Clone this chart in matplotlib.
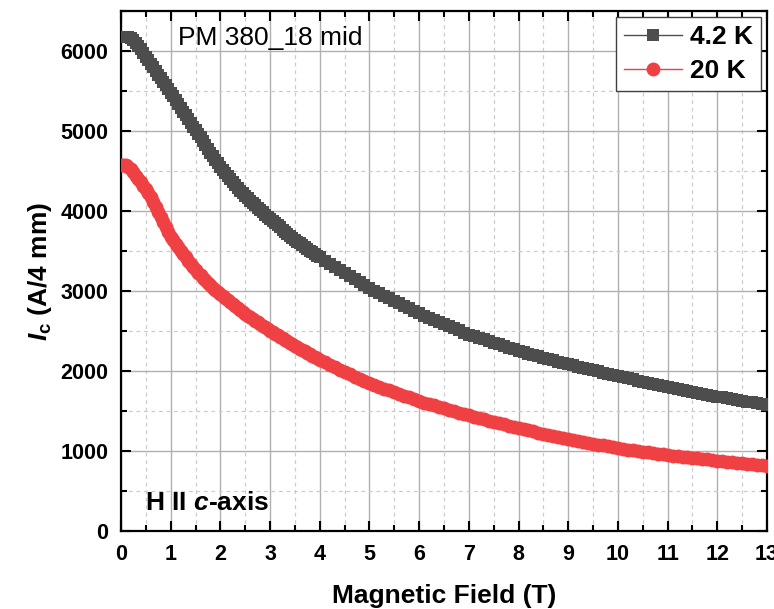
import matplotlib
matplotlib.use("Agg")
import matplotlib.pyplot as plt
from matplotlib.ticker import MultipleLocator

plt.rcParams['font.family'] = ['Liberation Sans', 'DejaVu Sans']
plt.rcParams['mathtext.fontset'] = 'custom'
plt.rcParams['mathtext.it'] = 'Liberation Sans:bold:italic'
plt.rcParams['mathtext.rm'] = 'Liberation Sans:bold'
plt.rcParams['mathtext.bf'] = 'Liberation Sans:bold'

# Magnetic field (T): 0.05 T steps up to 4 T, then 0.1 T steps to 13 T
field = [round(0.05 * i, 2) for i in range(81)] + [round(4.0 + 0.1 * i, 1) for i in range(1, 91)]

ic_42K = [
    # 0.00 - 4.00 T (0.05 T)
    6180, 6180, 6180, 6175, 6160, 6135, 6100, 6062, 6020, 5975,
    5930, 5885, 5840, 5795, 5750, 5705, 5660, 5615, 5570, 5525,
    5480, 5432, 5385, 5337, 5290, 5242, 5195, 5147, 5100, 5055,
    5010, 4965, 4920, 4875, 4830, 4780, 4730, 4685, 4640, 4597,
    4555, 4515, 4475, 4437, 4400, 4362, 4325, 4290, 4255, 4222,
    4190, 4160, 4130, 4100, 4070, 4040, 4010, 3982, 3955, 3927,
    3900, 3872, 3845, 3820, 3795, 3767, 3740, 3715, 3690, 3665,
    3640, 3617, 3595, 3572, 3550, 3527, 3505, 3482, 3460, 3440,
    3420,
    # 4.1 - 13.0 T (0.1 T)
    3380, 3340, 3300, 3261, 3223, 3185, 3147, 3109, 3072, 3035,
    3003, 2971, 2939, 2907, 2876, 2845, 2814, 2783, 2751, 2720,
    2693, 2666, 2639, 2612, 2586, 2560, 2534, 2508, 2481, 2455,
    2435, 2414, 2394, 2373, 2353, 2332, 2312, 2291, 2271, 2250,
    2233, 2216, 2199, 2182, 2166, 2150, 2134, 2118, 2101, 2085,
    2070, 2055, 2040, 2025, 2010, 1995, 1980, 1965, 1950, 1935,
    1921, 1908, 1894, 1881, 1867, 1854, 1840, 1827, 1813, 1800,
    1788, 1776, 1764, 1752, 1740, 1728, 1716, 1704, 1692, 1680,
    1670, 1659, 1649, 1638, 1628, 1617, 1607, 1596, 1586, 1575,
]

ic_20K = [
    # 0.00 - 4.00 T (0.05 T)
    4575, 4578, 4570, 4550, 4520, 4482, 4440, 4400, 4360, 4318,
    4275, 4225, 4170, 4112, 4052, 3990, 3928, 3865, 3802, 3740,
    3680, 3635, 3590, 3545, 3500, 3460, 3420, 3380, 3340, 3302,
    3265, 3230, 3195, 3163, 3132, 3102, 3072, 3043, 3015, 2987,
    2960, 2934, 2908, 2883, 2858, 2834, 2810, 2786, 2762, 2738,
    2715, 2693, 2672, 2651, 2630, 2609, 2588, 2567, 2546, 2525,
    2505, 2486, 2467, 2448, 2429, 2410, 2391, 2372, 2353, 2334,
    2315, 2297, 2280, 2262, 2245, 2227, 2210, 2192, 2175, 2157,
    2140,
    # 4.1 - 13.0 T (0.1 T)
    2109, 2078, 2047, 2016, 1985, 1958, 1931, 1904, 1877, 1850,
    1826, 1803, 1780, 1758, 1736, 1714, 1692, 1670, 1647, 1625,
    1606, 1588, 1570, 1552, 1534, 1516, 1498, 1480, 1462, 1445,
    1428, 1412, 1396, 1380, 1364, 1348, 1332, 1316, 1300, 1285,
    1271, 1257, 1244, 1230, 1217, 1203, 1190, 1176, 1163, 1150,
    1138, 1126, 1115, 1103, 1092, 1080, 1069, 1057, 1046, 1035,
    1026, 1018, 1009, 1001, 992, 984, 975, 967, 958, 950,
    943, 936, 929, 922, 915, 908, 901, 894, 887, 880,
    873, 867, 860, 854, 847, 841, 834, 828, 821, 815,
]

labels = ["4.2 K", "20 K"]
x_ticks = list(range(0, 14))
y_ticks = [0, 1000, 2000, 3000, 4000, 5000, 6000]

fig = plt.figure(figsize=(7.74, 6.09), dpi=100)
ax = fig.add_axes([121 / 774, 1 - 531 / 609, (767 - 121) / 774, (531 - 11) / 609])

ax.plot(field, ic_42K, '-s', color='#4d4d4d', lw=1, ms=8.5, mec='#4d4d4d', mew=0,
        label=labels[0], zorder=3)
ax.plot(field, ic_20K, '-o', color='#ef4043', lw=1, ms=10, mec='#ef4043', mew=0,
        label=labels[1], zorder=3)

ax.set_xlim(0, 13)
ax.set_ylim(0, 6500)
ax.set_xticks(x_ticks)
ax.set_yticks(y_ticks)
ax.xaxis.set_minor_locator(MultipleLocator(0.5))
ax.yaxis.set_minor_locator(MultipleLocator(500))

ax.grid(which='major', color='#b0b0b0', lw=1.0, ls='-', zorder=0)
ax.grid(which='minor', color='#cccccc', lw=0.9, ls=(0, (3, 3)), zorder=0)
ax.set_axisbelow(True)

ax.tick_params(which='both', direction='in', top=True, right=True,
               labelsize=15.5, width=1.5, pad=9)
ax.tick_params(which='major', length=7)
ax.tick_params(which='minor', length=4)
for lab in ax.get_xticklabels() + ax.get_yticklabels():
    lab.set_fontweight('bold')
for sp in ax.spines.values():
    sp.set_linewidth(1.6)

ax.set_xlabel("Magnetic Field (T)", fontsize=19, fontweight='bold', labelpad=14)
ax.set_ylabel(r"$I_{\mathrm{c}}$ (A/4 mm)", fontsize=19, fontweight='bold', labelpad=5)

ax.text((178 - 121) / 646, (531 - 45) / 520, "PM 380_18 mid", transform=ax.transAxes,
        fontsize=19, ha='left', va='baseline')
ax.text((145 - 121) / 646, (531 - 510) / 520, r"H II $c$-axis", transform=ax.transAxes,
        fontsize=19, fontweight='bold', ha='left', va='baseline')

leg = ax.legend(loc='upper right', prop={'weight': 'bold', 'size': 19},
                frameon=True, fancybox=False, edgecolor='#404040', framealpha=1,
                handlelength=2.2, borderaxespad=0.23, handletextpad=0.3,
                labelspacing=0.38, borderpad=0.3)
leg.get_frame().set_linewidth(1.0)

fig.savefig("out.png", dpi=100)
